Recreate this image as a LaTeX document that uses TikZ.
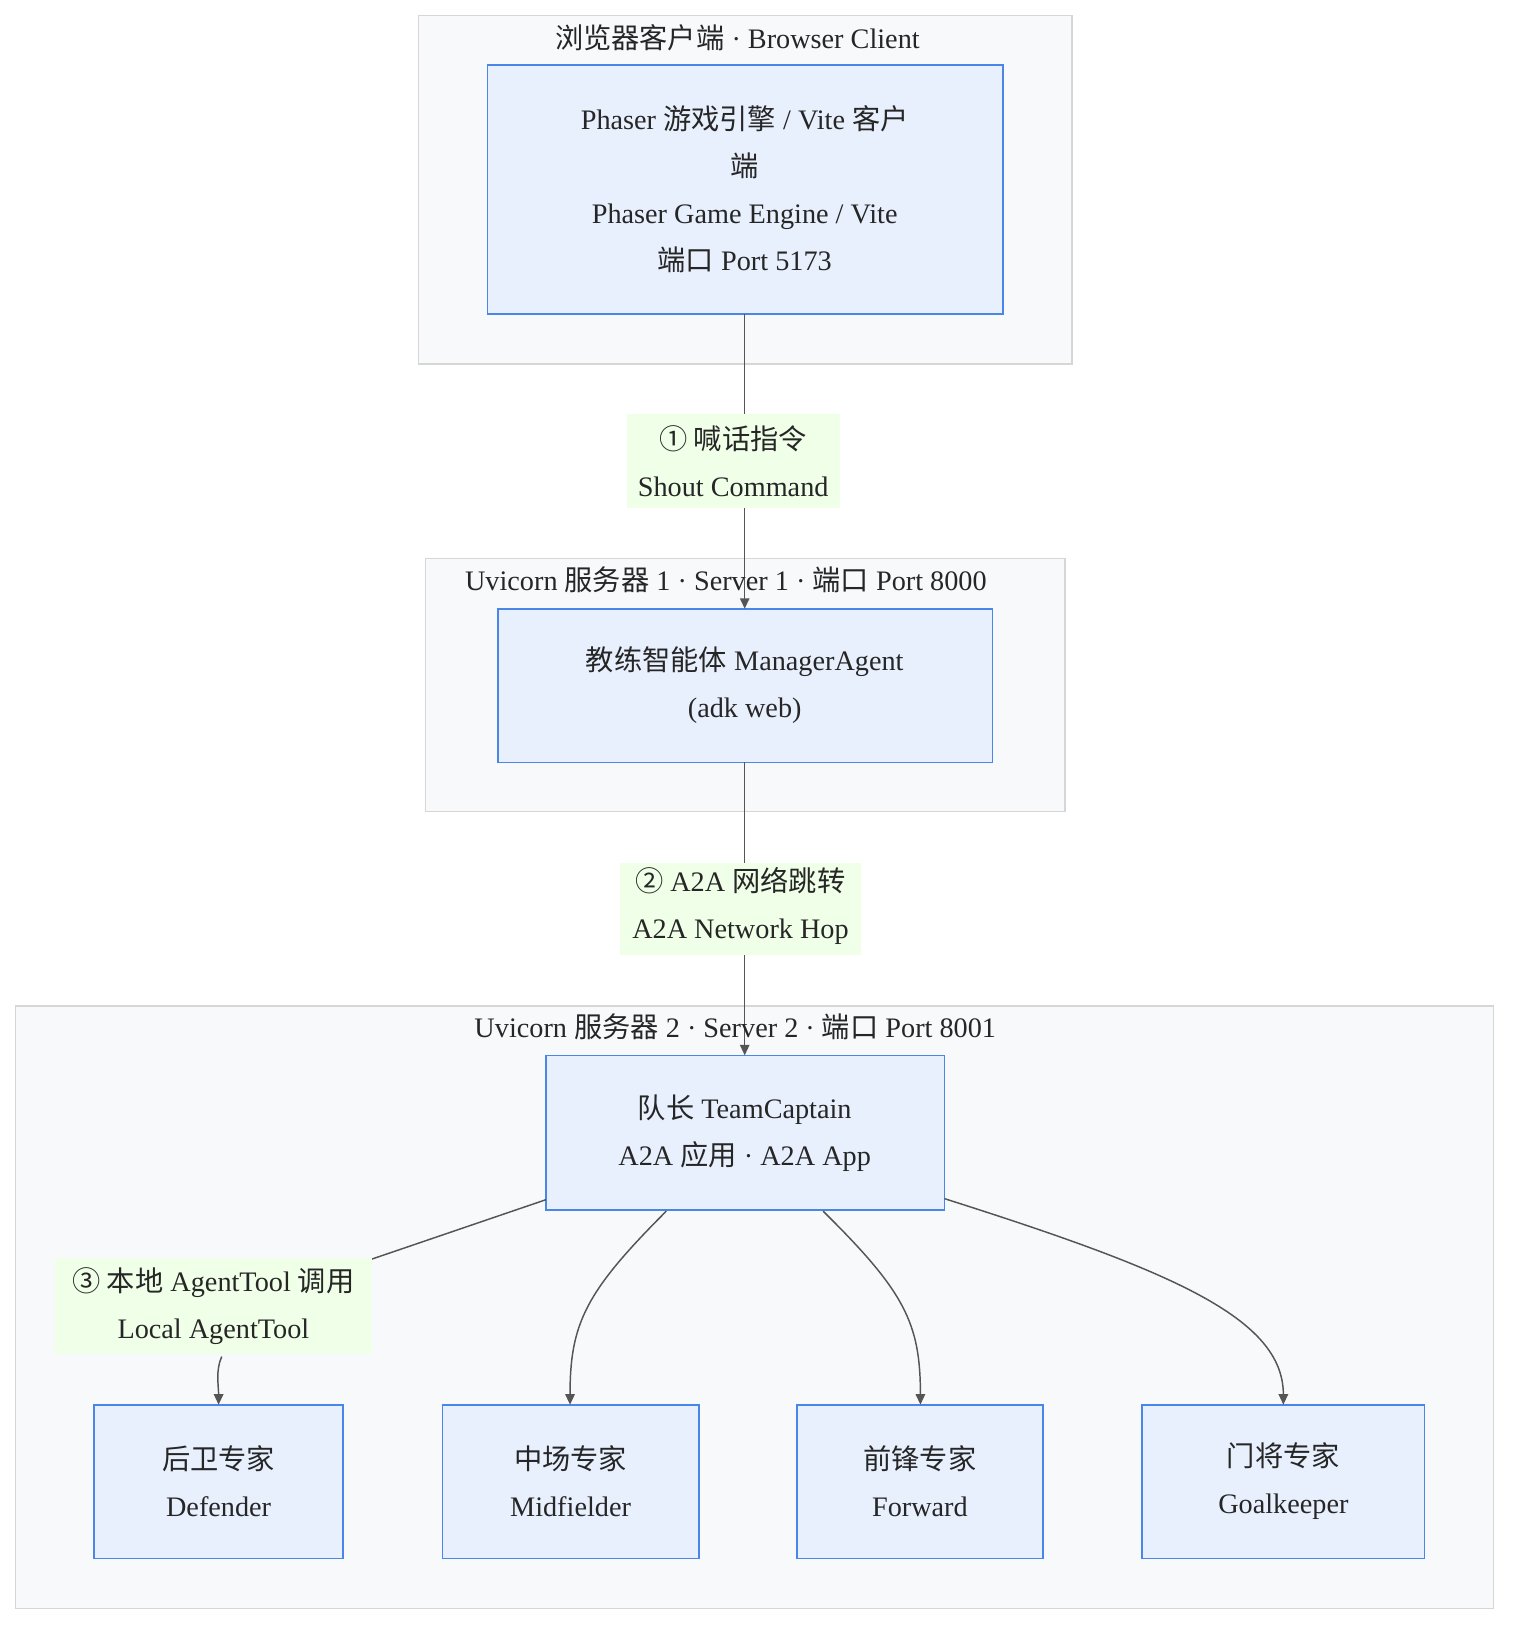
\documentclass[tikz,border=0pt]{standalone}
\usepackage{fontspec}
\setmainfont{Liberation Serif}
\newfontfamily\cjk{Noto Sans CJK SC}
\newcommand\cn[1]{{\cjk #1}}
\usetikzlibrary{arrows.meta}
\definecolor{clfill}{HTML}{F8F9FB}
\definecolor{cldraw}{HTML}{D6D6D6}
\definecolor{ndfill}{HTML}{E8F0FE}
\definecolor{nddraw}{HTML}{4A86E8}
\definecolor{lbfill}{HTML}{F0FFE8}
\definecolor{edge}{HTML}{555555}
\begin{document}
\begin{tikzpicture}[x=1pt,y=-1pt,
  txt/.style={font=\fontsize{27}{45}\selectfont,text=black!85,align=center},
  cluster/.style={fill=clfill,draw=cldraw,line width=1.5pt},
  nd/.style={fill=ndfill,draw=nddraw,line width=1.6pt},
  lb/.style={fill=lbfill},
  ed/.style={draw=edge,line width=1.4pt},
  arr/.style={ed,-{Triangle[length=10pt,width=9pt]}}]
\useasboundingbox (0,0) rectangle (1459,1568);
% clusters
\draw[cluster] (400,15) rectangle (1025,348);
\node[txt] (t1) at (705,36) {\cn{浏览器客户端} · Browser Client};
\draw[cluster] (407,534) rectangle (1018,776);
\draw[cluster] (15,962) rectangle (1428,1538);
% nodes
\draw[nd] (466,62) rectangle (959,300);
\node[txt] (A) at (712,181) {Phaser \cn{游戏引擎} / Vite \cn{客户}\\\cn{端}\\Phaser Game Engine / Vite\\\cn{端口} Port 5173};
\coordinate (Ab) at (712,300);
\draw[nd] (476,582) rectangle (949,729);
\node[txt] (B) at (712,655) {\cn{教练智能体} ManagerAgent\\(adk web)};
\coordinate (Bt) at (712,582); \coordinate (Bb) at (712,729);
\draw[nd] (522,1009) rectangle (903,1157);
\node[txt] (C) at (712,1083) {\cn{队长} TeamCaptain\\A2A \cn{应用} · A2A App};
\coordinate (Ct) at (712,1009);
\foreach \n/\a/\b/\t/\e in {D/90/328/后卫专家/Defender, M/423/668/中场专家/Midfielder, F/762/997/前锋专家/Forward, G/1092/1362/门将专家/Goalkeeper}{
  \draw[nd] (\a,1343) rectangle (\b,1490);
  \node[txt] (\n) at ({(\a+\b)/2},1416) {\cn{\t}\\\e};
}
% edges
\draw[ed] (Ab) -- (712,396);
\draw[arr] (712,486) -- (Bt);
\draw[lb,draw=none] (599,396) rectangle (803,486);
\node[txt] (L1) at (701,441) {\cn{① 喊话指令}\\Shout Command};
\node[txt] (T2) at (694,554) {Uvicorn \cn{服务器} 1 · Server 1 · \cn{端口} Port 8000};
\draw[ed] (Bb) -- (712,825);
\draw[arr] (712,913) -- (Ct);
\draw[lb,draw=none] (593,825) rectangle (823,913);
\node[txt] (L2) at (708,866) {\cn{② }A2A \cn{网络跳转}\\A2A Network Hop};
\node[txt] (T3) at (703,982) {Uvicorn \cn{服务器} 2 · Server 2 · \cn{端口} Port 8001};
% fan out
\draw[ed] (522,1147) -- (352,1205);
\draw[arr] (212,1297) .. controls (206,1310) and (209,1325) .. (209,1343);
\draw[lb,draw=none] (53,1203) rectangle (356,1295);
\node[txt] (L3) at (204,1249) {\cn{③ 本地} AgentTool \cn{调用}\\Local AgentTool};
\draw[arr] (637,1158) .. controls (560,1235) and (545,1265) .. (545,1343);
\draw[arr] (787,1158) .. controls (865,1235) and (880,1265) .. (880,1343);
\draw[arr] (903,1146) .. controls (1120,1215) and (1227,1260) .. (1227,1343);
\end{tikzpicture}
\end{document}
